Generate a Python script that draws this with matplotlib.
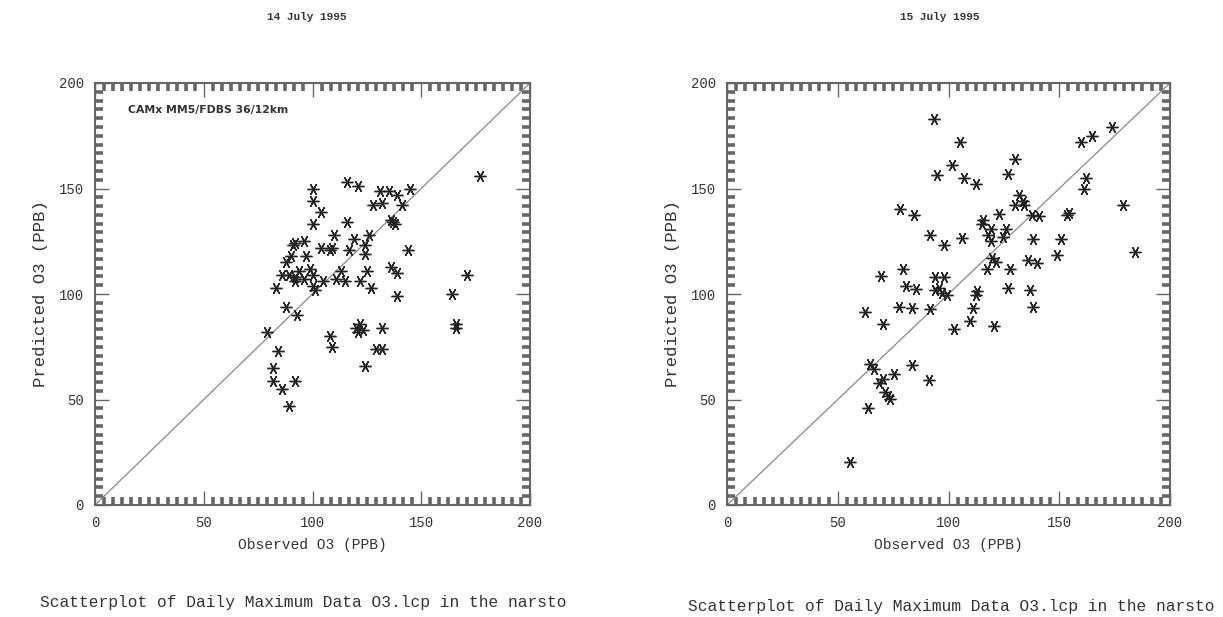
import numpy as np
import matplotlib
matplotlib.use('Agg')
import matplotlib.pyplot as plt
from matplotlib.ticker import MultipleLocator

# 14 July 1995: observed / predicted O3 (ppb)
obs_14 = [177, 171, 164, 166, 166, 145, 141, 144, 139, 135, 131, 132, 128,
          137, 136, 138, 136, 139, 139, 126, 124, 124, 125, 122, 127,
          121, 116, 116, 110, 108, 109, 104, 119, 117, 113, 115, 111, 105,
          100, 100, 104, 100, 92, 96, 91, 90, 88, 86, 89, 92, 92, 83,
          99, 100, 100, 97, 94, 96, 101, 88, 93, 79, 84, 82, 82, 86, 92, 89,
          108, 109, 120, 122, 121, 123, 132, 129, 132, 124]
pred_14 = [156, 109, 100, 86, 84, 150, 142, 121, 147, 149, 149, 143, 142,
           134, 135, 133, 113, 110, 99, 128, 123, 119, 111, 106, 103,
           151, 153, 134, 128, 121, 122, 122, 126, 121, 111, 106, 107, 106,
           150, 144, 139, 133, 124, 125, 123, 118, 115, 109, 109, 108, 106, 103,
           112, 109, 104, 118, 111, 107, 102, 94, 90, 82, 73, 65, 59, 55, 59, 47,
           80, 75, 84, 86, 82, 83, 84, 74, 74, 66]

# 15 July 1995
obs_15 = [93.5, 105, 101.5, 94.7, 107, 112.5, 130, 127,
          174, 165, 160, 162, 161, 179, 184,
          154.5, 153.7, 151, 149,
          132, 133.5, 130, 134, 141, 137.5, 123, 138,
          126, 124.6, 115.7, 115, 119, 118, 119,
          119.7, 121.4, 117.3, 127.8, 136, 140,
          127, 136.7, 138, 120.6, 112.5, 113, 111, 109.7, 102.4,
          98, 106, 91.7, 78, 84.5, 79.3, 69.6, 81, 85.4,
          94, 98, 95.5, 97, 99.5, 94,
          77.7, 83.7, 91.7, 62.3, 70.4,
          64.7, 66.3, 68.8, 70.4, 75.2, 83.7, 91,
          71.2, 73.6, 72.8, 63.6, 55.6]
pred_15 = [183, 172, 161, 156.5, 155, 152, 164, 157,
           179, 175, 172, 155, 150, 142, 120,
           138.6, 137.4, 126, 118.5,
           147, 144, 142, 142, 137, 137.4, 138, 126,
           131, 127, 135, 133, 131, 128, 125,
           117, 115.4, 112, 112, 116, 114.6,
           103, 102, 94, 85, 99.7, 101.3, 93.4, 87, 83.5,
           123, 126.4, 128, 140.5, 137.4, 112, 108.3, 103.6, 102.5,
           108, 108, 103, 100.5, 99.7, 102,
           93.7, 93.4, 93, 91.5, 85.6,
           67, 64.4, 58, 59.5, 62.3, 66.2, 59.3,
           53.4, 50.2, 51.8, 46, 20.3]

titles = ['14 July 1995', '15 July 1995']
caption = 'Scatterplot of Daily Maximum Data O3.lcp in the narsto'
ticks = [0, 50, 100, 150, 200]

mono = 'Liberation Mono'
fig = plt.figure(figsize=(12.23, 6.17), dpi=100)

ax1 = fig.add_axes([95/1223, 112/617, 435/1223, 422/617])
ax2 = fig.add_axes([727/1223, 112/617, 443/1223, 422/617])

marker = (6, 2, 90)
for ax, ox, py in [(ax1, obs_14, pred_14), (ax2, obs_15, pred_15)]:
    ax.plot([0, 200], [0, 200], color='#888888', lw=0.9)
    ax.plot(ox, py, linestyle='none', marker=marker, markersize=8.5,
            markeredgewidth=1.0, color='#222222')
    ax.set_xlim(0, 200)
    ax.set_ylim(0, 200)
    ax.set_xticks(ticks)
    ax.set_yticks(ticks)
    # dense tick band along the frame
    ax.xaxis.set_minor_locator(MultipleLocator(50/12))
    ax.yaxis.set_minor_locator(MultipleLocator(50/12))
    ax.tick_params(which='both', direction='in', top=True, right=True, color='#666666')
    ax.tick_params(which='minor', length=6, width=2.6)
    ax.tick_params(which='major', length=10, width=1.0, labelsize=10, pad=8,
                   labelcolor='#333333', labelfontfamily=mono)
    for sp in ax.spines.values():
        sp.set_color('#666666')
        sp.set_linewidth(1.5)
    ax.set_xlabel('Observed O3 (PPB)', fontsize=10.5, family=mono, color='#333333', labelpad=6)
    ax.set_ylabel('Predicted O3 (PPB)', fontsize=12.5, family=mono, color='#333333', labelpad=8)

fig.text(307/1223, 1 - 17/617, titles[0], ha='center', va='center', fontsize=8,
         family=mono, weight='bold', color='#333333')
fig.text(940/1223, 1 - 17/617, titles[1], ha='center', va='center', fontsize=8,
         family=mono, weight='bold', color='#333333')
fig.text(303/1223, 1 - 602/617, caption, ha='center', va='center', fontsize=11.7,
         family=mono, color='#333333')
fig.text(951/1223, 1 - 606/617, caption, ha='center', va='center', fontsize=11.7,
         family=mono, color='#333333')
ax1.text(0.075, 0.935, 'CAMx MM5/FDBS 36/12km', transform=ax1.transAxes,
         fontsize=7.8, weight='bold', color='#333333', va='center')

fig.savefig('out.png', dpi=100)
